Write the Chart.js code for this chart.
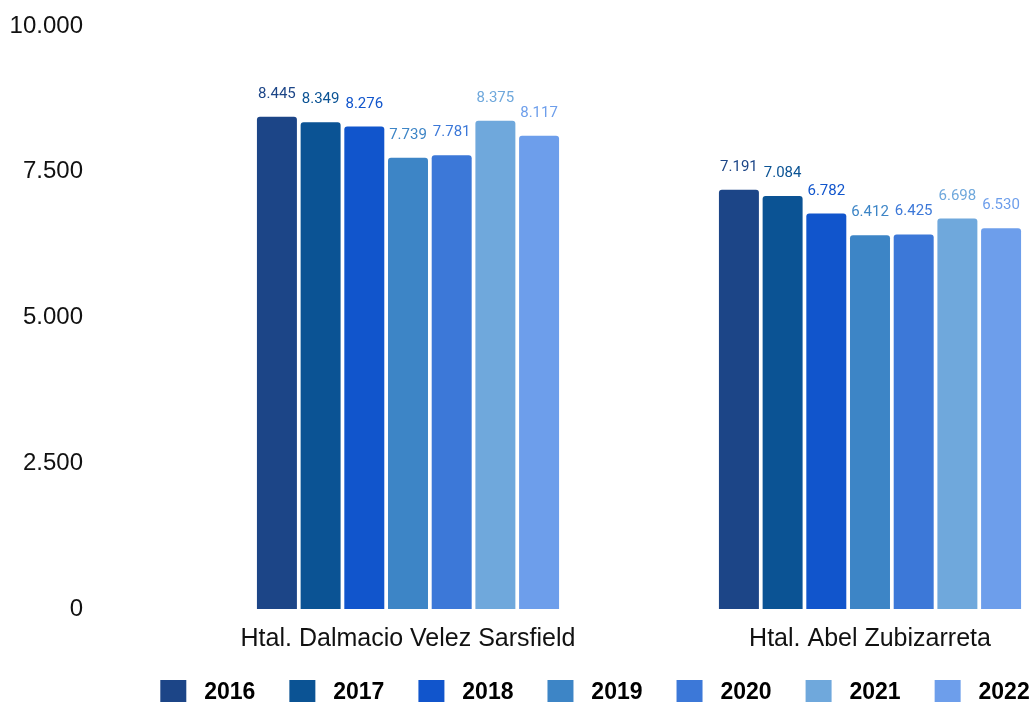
<!DOCTYPE html>
<html>
<head>
<meta charset="utf-8">
<script src="https://cdn.jsdelivr.net/npm/chart.js@4.4.1/dist/chart.umd.min.js"></script>
<style>
  html, body { margin: 0; padding: 0; background: #fff; overflow: hidden; }
  #wrap { width: 1033px; height: 702px; overflow: hidden; }
  canvas { display: block; }
</style>
</head>
<body>
<div id="wrap"><canvas id="chart" width="1190" height="716"></canvas></div>
<script>
const hospitals = ['Htal. Dalmacio Velez Sarsfield', 'Htal. Abel Zubizarreta'];
const years = ['2016', '2017', '2018', '2019', '2020', '2021', '2022'];
const v2016 = [8445, 7191];
const v2017 = [8349, 7084];
const v2018 = [8276, 6782];
const v2019 = [7739, 6412];
const v2020 = [7781, 6425];
const v2021 = [8375, 6698];
const v2022 = [8117, 6530];
const yTicks = [0, 2500, 5000, 7500, 10000];

const colors = ['#1c4587', '#0b5394', '#1155cc', '#3d85c6', '#3c78d8', '#6fa8dc', '#6d9eeb'];
const series = [v2016, v2017, v2018, v2019, v2020, v2021, v2022];

const fmt = (n) => String(n).replace(/\B(?=(\d{3})+(?!\d))/g, '.');

// little value labels above every bar
const barLabels = {
    id: 'barLabels',
    afterDatasetsDraw(chart) {
        const ctx = chart.ctx;
        ctx.save();
        ctx.font = '15px Roboto';
        ctx.textAlign = 'center';
        ctx.textBaseline = 'alphabetic';
        chart.data.datasets.forEach((ds, i) => {
            chart.getDatasetMeta(i).data.forEach((bar, j) => {
                ctx.fillStyle = ds.backgroundColor;
                ctx.fillText(fmt(ds.data[j]), bar.x, bar.y - 19);
            });
        });
        ctx.restore();
    }
};

const ctx = document.getElementById('chart').getContext('2d');
new Chart(ctx, {
    type: 'bar',
    data: {
        labels: hospitals,
        datasets: series.map((d, i) => {
            return {
                label: years[i],
                data: d,
                backgroundColor: colors[i],
                borderRadius: 3,
                borderSkipped: 'bottom',
                categoryPercentage: 0.662,
                barPercentage: 0.915
            };
        })
    },
    options: {
        responsive: false,
        animation: false,
        layout: { padding: { left: 0, right: 0, top: 26, bottom: 0 } },
        plugins: {
            tooltip: { enabled: false },
            legend: {
                position: 'bottom',
                labels: {
                    boxWidth: 26,
                    boxHeight: 26,
                    padding: 34,
                    color: '#222',
                    font: { family: 'Liberation Sans', size: 23, weight: 'bold' },
                    generateLabels: (chart) => chart.data.datasets.map((ds, i) => ({
                        text: ' ' + ds.label,
                        fillStyle: ds.backgroundColor,
                        strokeStyle: ds.backgroundColor,
                        lineWidth: 0,
                        datasetIndex: i
                    }))
                }
            }
        },
        scales: {
            x: {
                afterFit: (scale) => { scale.height = 37; },
                grid: { display: false, drawTicks: false },
                border: { display: false },
                ticks: { color: '#111', padding: 15, maxRotation: 0, minRotation: 0, font: { family: 'Liberation Sans', size: 25 } }
            },
            y: {
                min: 0,
                max: 10000,
                afterBuildTicks: (scale) => { scale.ticks = yTicks.map(v => ({ value: v })); },
                afterFit: (scale) => {
                    scale.width = 177;
                    scale.paddingTop = 0;
                    scale.paddingBottom = 0;
                },
                grid: { display: false, drawTicks: false },
                border: { display: false },
                ticks: {
                    color: '#111',
                    padding: 94,
                    font: { family: 'Liberation Sans', size: 24 },
                    callback: (v) => fmt(v)
                }
            },
            // empty right axis, only to keep room on the right
            y2: {
                position: 'right',
                min: 0,
                max: 10000,
                afterFit: (scale) => { scale.width = 89; },
                grid: { display: false, drawTicks: false },
                border: { display: false },
                ticks: { display: false }
            }
        }
    },
    plugins: [barLabels]
});
</script>
</body>
</html>
